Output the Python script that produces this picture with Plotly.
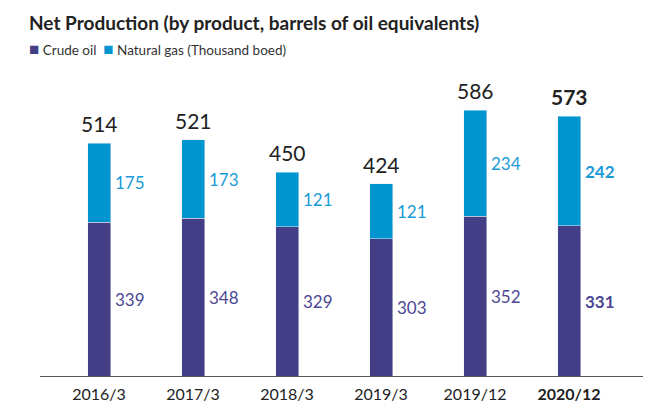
import plotly.graph_objects as go

categories = ["2016/3", "2017/3", "2018/3", "2019/3", "2019/12", "2020/12"]
crude_oil = [339, 348, 329, 303, 352, 331]
natural_gas = [175, 173, 121, 121, 234, 242]
tick_labels = ["2016/3", "2017/3", "2018/3", "2019/3", "2019/12", "<b>2020/12</b>"]
totals = [c + g for c, g in zip(crude_oil, natural_gas)]

CRUDE = "#433E85"
GAS = "#0095CE"
CRUDE_TXT = "#4B4792"
GAS_TXT = "#1A9AD6"
FONT = "Lato"

fig = go.Figure()
fig.add_trace(go.Bar(x=categories, y=crude_oil, name="Crude oil", marker_color=CRUDE,
                     width=0.245, hoverinfo="skip"))
fig.add_trace(go.Bar(x=categories, y=natural_gas, name="Natural gas (Thousand boed)",
                     marker_color=GAS, width=0.245, hoverinfo="skip"))

last = len(categories) - 1
for i, cat in enumerate(categories):
    b = i == last
    fig.add_annotation(x=cat, y=totals[i], text=(f"<b>{totals[i]}</b>" if b else str(totals[i])),
                       showarrow=False, yanchor="bottom", yshift=5,
                       font=dict(family=FONT, size=21, color="#222222"))
    fig.add_annotation(x=cat, y=crude_oil[i] + natural_gas[i] / 2,
                       text=(f"<b>{natural_gas[i]}</b>" if b else str(natural_gas[i])),
                       showarrow=False, xanchor="left", xshift=14,
                       font=dict(family=FONT, size=17, color=GAS_TXT))
    fig.add_annotation(x=cat, y=crude_oil[i] / 2,
                       text=(f"<b>{crude_oil[i]}</b>" if b else str(crude_oil[i])),
                       showarrow=False, xanchor="left", xshift=14,
                       font=dict(family=FONT, size=17, color=CRUDE_TXT))

# title
fig.add_annotation(xref="paper", yref="paper", x=-0.021, y=1.28, xanchor="left", yanchor="middle",
                   showarrow=False,
                   text="<b>Net Production (by product, barrels of oil equivalents)</b>",
                   font=dict(family=FONT, size=19, color="#222222"))
# legend as text
fig.add_annotation(xref="paper", yref="paper", x=-0.021, y=1.188, xanchor="left", yanchor="middle",
                   showarrow=False, align="left",
                   text=(f"<span style='color:{CRUDE};font-size:17px'>■</span> Crude oil  "
                         f"<span style='color:{GAS};font-size:17px'>■</span> Natural gas (Thousand boed)"),
                   font=dict(family=FONT, size=13.5, color="#333333"))

fig.update_layout(
    width=668, height=403,
    barmode="stack",
    showlegend=False,
    plot_bgcolor="white", paper_bgcolor="white",
    margin=dict(l=40, r=25, t=100, b=27, autoexpand=False),
    xaxis=dict(type="category", range=[-0.628, 5.787], showline=True, linecolor="#555555",
               linewidth=1, tickvals=categories, ticktext=tick_labels, ticks="",
               automargin=False, ticklabelstandoff=4,
               tickfont=dict(family=FONT, size=16, color="#222222"), showgrid=False),
    yaxis=dict(range=[0, 609], visible=False, showgrid=False, automargin=False),
)

fig.write_html("out.html", post_script="document.body.style.margin='0';",
               config={"displayModeBar": False})
